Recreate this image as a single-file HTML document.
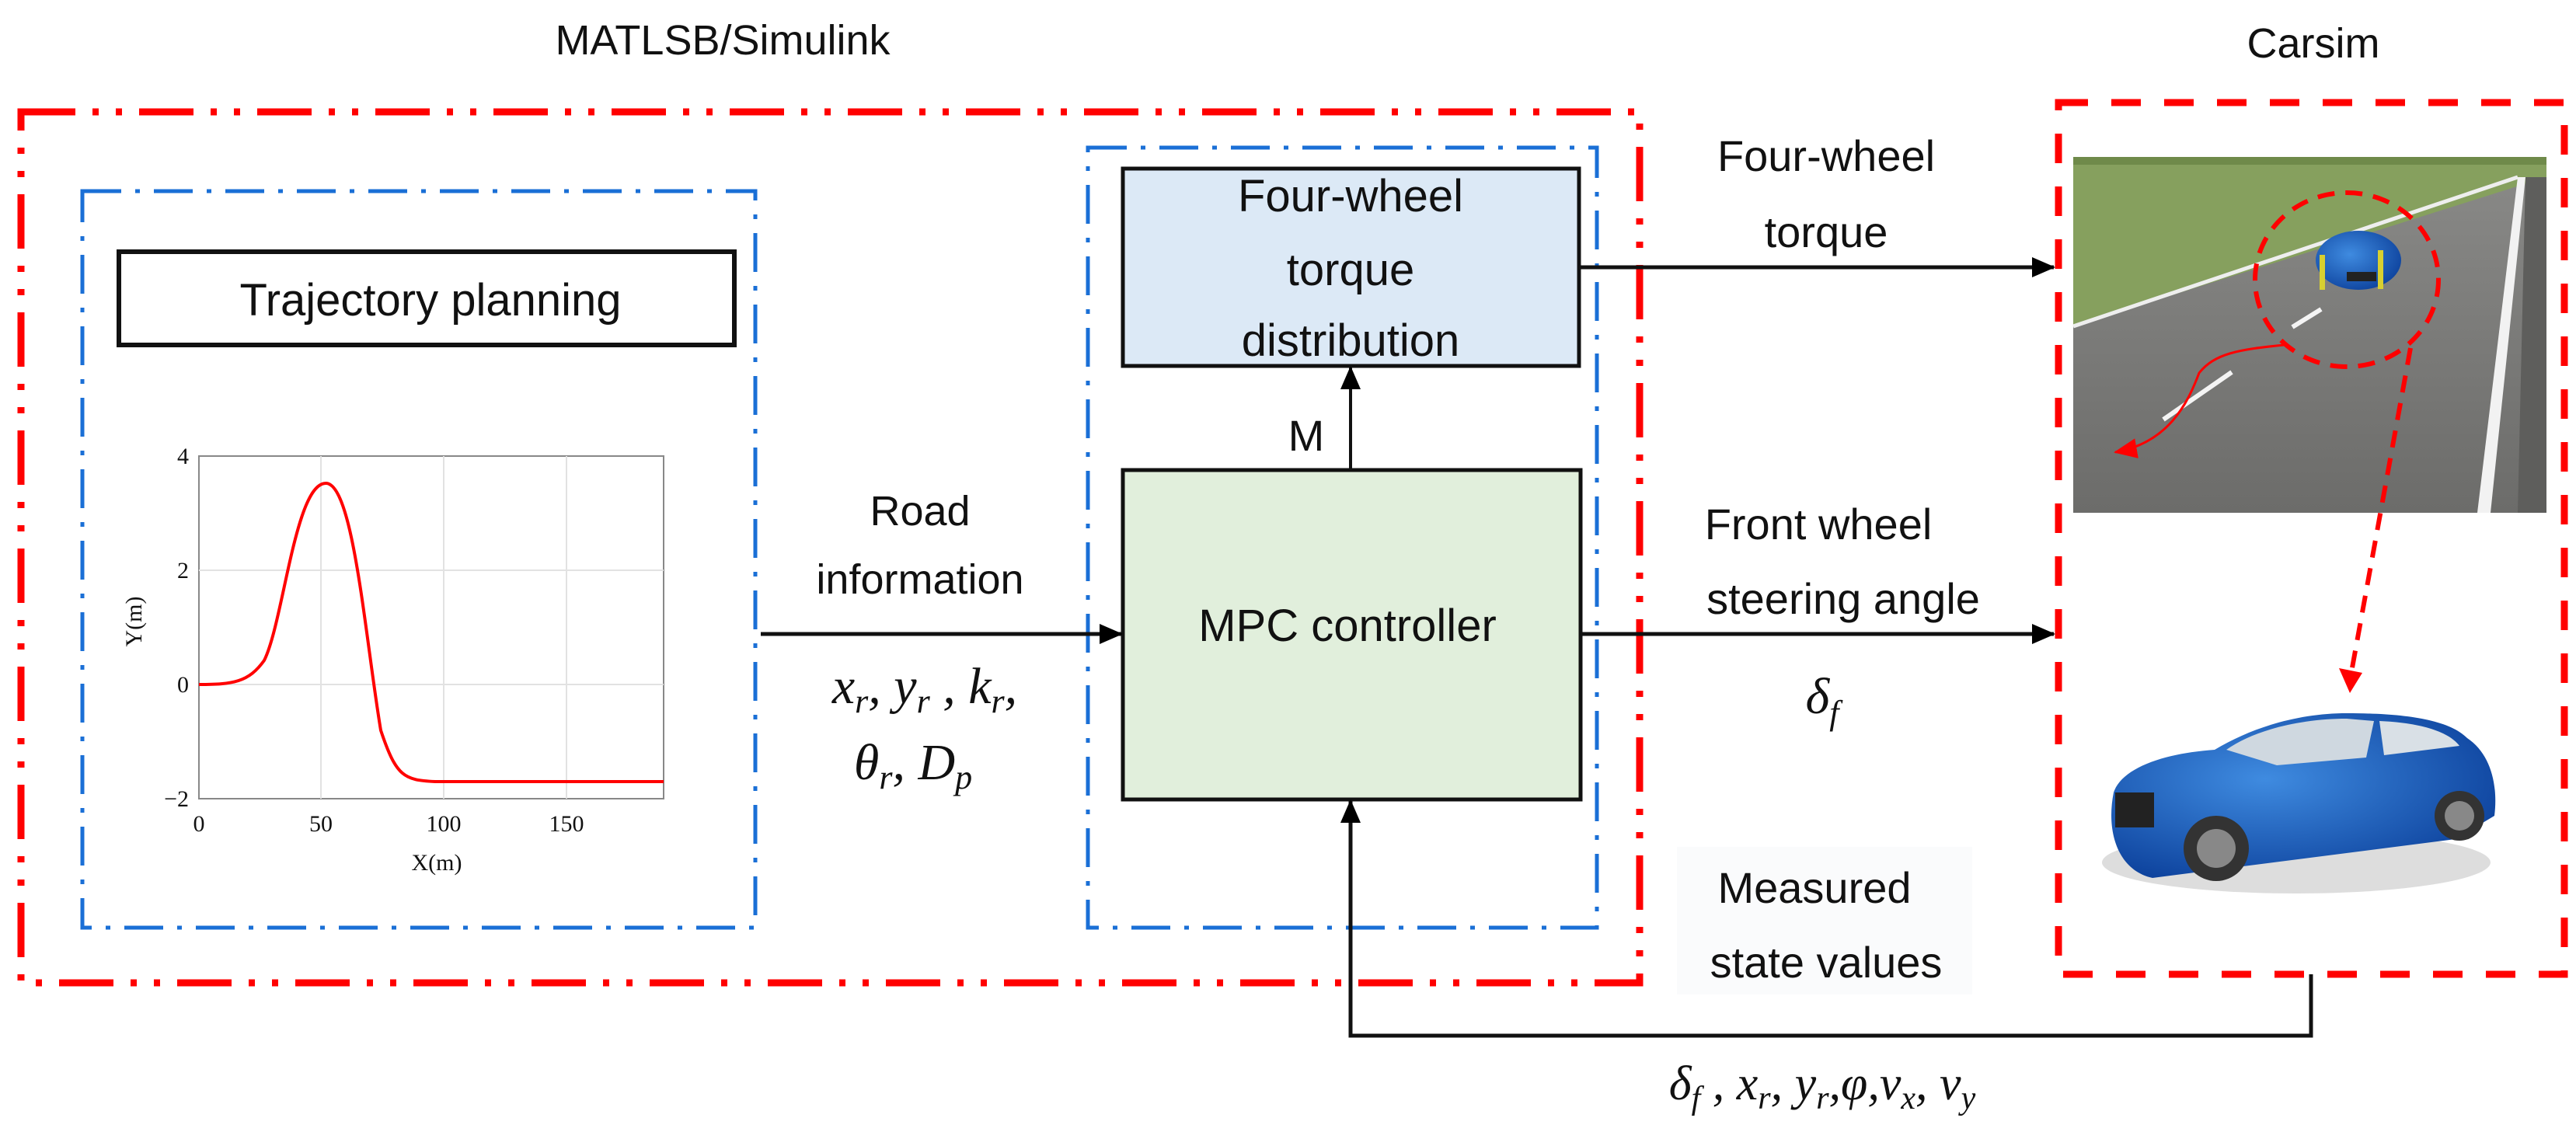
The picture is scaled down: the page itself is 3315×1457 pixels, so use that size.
<!DOCTYPE html>
<html><head><meta charset="utf-8"><style>
html,body{margin:0;padding:0;background:#fff}
svg{display:block}
text{font-family:"Liberation Sans",sans-serif;fill:#111}
.m{font-family:"Liberation Serif",serif;font-style:italic}
</style></head><body>
<svg width="3315" height="1457" viewBox="0 0 3315 1457" xmlns="http://www.w3.org/2000/svg">
<defs>
<marker id="ahb" markerWidth="30" markerHeight="26" refX="28" refY="13" orient="auto" markerUnits="userSpaceOnUse"><path d="M0,0 L30,13 L0,26 z" fill="#000"/></marker>
<marker id="ahr" markerWidth="30" markerHeight="26" refX="28" refY="13" orient="auto" markerUnits="userSpaceOnUse"><path d="M0,0 L30,13 L0,26 z" fill="#f00"/></marker>
<radialGradient id="carb" cx="0.4" cy="0.4" r="0.7"><stop offset="0" stop-color="#3f8be0"/><stop offset="1" stop-color="#0b3f9a"/></radialGradient>
<linearGradient id="asph" x1="0" y1="0" x2="0" y2="1"><stop offset="0" stop-color="#8a8a88"/><stop offset="1" stop-color="#6c6c6a"/></linearGradient>
</defs>

<text x="930" y="70" font-size="54" text-anchor="middle">MATLSB/Simulink</text>
<text x="2977" y="74" font-size="54" text-anchor="middle">Carsim</text>

<rect x="27" y="144" width="2083" height="1121" fill="none" stroke="#f00" stroke-width="9" stroke-dasharray="70,22,8,22,8,22"/>
<rect x="106" y="246" width="866" height="948" fill="none" stroke="#1a6fd6" stroke-width="5" stroke-dasharray="50,18,6,18"/>
<rect x="1400" y="190" width="655" height="1004" fill="none" stroke="#1a6fd6" stroke-width="5" stroke-dasharray="50,18,6,18"/>

<rect x="153" y="324" width="792" height="120" fill="#fff" stroke="#111" stroke-width="6"/>
<text x="554" y="406" font-size="58" text-anchor="middle">Trajectory planning</text>

<g>
<rect x="256" y="587" width="598" height="441" fill="#fff" stroke="#888" stroke-width="2"/>
<g stroke="#e2e2e2" stroke-width="2">
<line x1="413" y1="587" x2="413" y2="1028"/><line x1="571" y1="587" x2="571" y2="1028"/><line x1="729" y1="587" x2="729" y2="1028"/>
<line x1="256" y1="734" x2="854" y2="734"/><line x1="256" y1="881" x2="854" y2="881"/>
</g>
<path d="M256,881 C300,881 320,878 340,850 C365,800 380,620 420,622 C455,625 470,820 490,940 C510,1000 520,1004 560,1006 L854,1006" fill="none" stroke="#f00" stroke-width="4"/>
<g font-size="30" fill="#333">
<text x="243" y="597" text-anchor="end" style="font-family:'Liberation Serif',serif">4</text>
<text x="243" y="744" text-anchor="end" style="font-family:'Liberation Serif',serif">2</text>
<text x="243" y="891" text-anchor="end" style="font-family:'Liberation Serif',serif">0</text>
<text x="243" y="1038" text-anchor="end" style="font-family:'Liberation Serif',serif">−2</text>
<text x="256" y="1070" text-anchor="middle" style="font-family:'Liberation Serif',serif">0</text>
<text x="413" y="1070" text-anchor="middle" style="font-family:'Liberation Serif',serif">50</text>
<text x="571" y="1070" text-anchor="middle" style="font-family:'Liberation Serif',serif">100</text>
<text x="729" y="1070" text-anchor="middle" style="font-family:'Liberation Serif',serif">150</text>
<text x="562" y="1120" text-anchor="middle" style="font-family:'Liberation Serif',serif">X(m)</text>
<text transform="translate(182,800) rotate(-90)" text-anchor="middle" style="font-family:'Liberation Serif',serif">Y(m)</text>
</g>
</g>

<rect x="1445" y="217" width="587" height="254" fill="#dce9f6" stroke="#111" stroke-width="5"/>
<text x="1738" y="272" font-size="58" text-anchor="middle">Four-wheel</text>
<text x="1738" y="367" font-size="58" text-anchor="middle">torque</text>
<text x="1738" y="458" font-size="58" text-anchor="middle">distribution</text>

<rect x="1445" y="605" width="589" height="424" fill="#e1efdc" stroke="#111" stroke-width="5"/>
<text x="1734" y="825" font-size="58" text-anchor="middle">MPC controller</text>

<line x1="1738" y1="605" x2="1738" y2="473" stroke="#111" stroke-width="4" marker-end="url(#ahb)"/>
<text x="1681" y="580" font-size="56" text-anchor="middle">M</text>

<line x1="979" y1="816" x2="1443" y2="816" stroke="#111" stroke-width="5" marker-end="url(#ahb)"/>
<text x="1184" y="676" font-size="54" text-anchor="middle">Road</text>
<text x="1184" y="764" font-size="54" text-anchor="middle">information</text>
<text x="1190" y="905" font-size="66" text-anchor="middle" class="m">x<tspan font-size="44" dy="12">r</tspan><tspan dy="-12">, y</tspan><tspan font-size="44" dy="12">r</tspan><tspan dy="-12"> , k</tspan><tspan font-size="44" dy="12">r</tspan><tspan dy="-12">,</tspan></text>
<text x="1175" y="1003" font-size="66" text-anchor="middle" class="m">θ<tspan font-size="44" dy="12">r</tspan><tspan dy="-12">, D</tspan><tspan font-size="44" dy="12">p</tspan></text>

<line x1="2034" y1="344" x2="2643" y2="344" stroke="#111" stroke-width="5" marker-end="url(#ahb)"/>
<line x1="2034" y1="816" x2="2643" y2="816" stroke="#111" stroke-width="5" marker-end="url(#ahb)"/>
<text x="2350" y="220" font-size="56" text-anchor="middle">Four-wheel</text>
<text x="2350" y="318" font-size="56" text-anchor="middle">torque</text>
<text x="2340" y="694" font-size="56" text-anchor="middle">Front wheel</text>
<text x="2372" y="790" font-size="56" text-anchor="middle">steering angle</text>
<text x="2345" y="918" font-size="66" text-anchor="middle" class="m">δ<tspan font-size="44" dy="14">f</tspan></text>

<rect x="2158" y="1090" width="380" height="190" fill="#fafbfc"/>
<text x="2335" y="1162" font-size="56" text-anchor="middle">Measured</text>
<text x="2350" y="1258" font-size="56" text-anchor="middle">state values</text>

<polyline points="2974,1254 2974,1333 1738,1333 1738,1031" fill="none" stroke="#111" stroke-width="5" marker-end="url(#ahb)"/>
<text x="2345" y="1415" font-size="62" text-anchor="middle" class="m">δ<tspan font-size="42" dy="12">f</tspan><tspan dy="-12"> , x</tspan><tspan font-size="42" dy="12">r</tspan><tspan dy="-12">, y</tspan><tspan font-size="42" dy="12">r</tspan><tspan dy="-12">,φ,v</tspan><tspan font-size="42" dy="12">x</tspan><tspan dy="-12">, v</tspan><tspan font-size="42" dy="12">y</tspan></text>

<rect x="2649" y="132" width="651" height="1122" fill="none" stroke="#f00" stroke-width="9" stroke-dasharray="38,30"/>

<!-- photo -->
<rect x="2668" y="202" width="609" height="458" fill="url(#asph)"/>
<polygon points="2668,202 3277,202 3277,228 2668,420" fill="#86a05e"/>
<rect x="2668" y="202" width="609" height="10" fill="#6f8a4a"/>
<line x1="2668" y1="420" x2="3240" y2="228" stroke="#eee" stroke-width="5"/>
<polygon points="3240,228 3250,228 3205,660 3188,660" fill="#f2f2f2"/>
<polygon points="3250,228 3277,228 3277,660 3240,660" fill="#5e5e5c"/>
<line x1="2784" y1="540" x2="2872" y2="479" stroke="#f4f4f4" stroke-width="6"/>
<line x1="2950" y1="421" x2="2987" y2="398" stroke="#f4f4f4" stroke-width="6"/>
<ellipse cx="3035" cy="335" rx="55" ry="38" fill="url(#carb)"/>
<rect x="3020" y="350" width="38" height="12" fill="#222"/>
<rect x="2985" y="328" width="7" height="45" fill="#d8d030"/><rect x="3060" y="322" width="7" height="50" fill="#d8d030"/>
<ellipse cx="3020" cy="360" rx="118" ry="112" fill="none" stroke="#f00" stroke-width="6" stroke-dasharray="22,14"/>
<path d="M2939,444 C2880,450 2850,455 2830,480 C2815,520 2790,570 2722,582" fill="none" stroke="#f00" stroke-width="3" marker-end="url(#ahr)"/>
<line x1="3102" y1="448" x2="3026" y2="865" stroke="#f00" stroke-width="6" stroke-dasharray="22,14"/>
<path d="M3010,860 L3040,866 L3024,892 z" fill="#f00"/>

<!-- car -->
<g>
<ellipse cx="2955" cy="1110" rx="250" ry="40" fill="#ddd"/>
<path d="M2720,1020 C2730,990 2780,970 2850,965 C2900,935 2960,918 3020,918 C3090,918 3150,925 3175,950 C3205,970 3215,1010 3210,1050 L3160,1080 L2770,1130 C2725,1120 2710,1070 2720,1020 z" fill="url(#carb)"/>
<path d="M2865,965 C2900,940 2960,925 3020,925 L3055,928 L3045,975 L2930,985 z" fill="#cfd8e0"/>
<path d="M3062,928 C3110,930 3150,940 3165,960 L3068,972 z" fill="#d9e0e6"/>
<rect x="2722" y="1020" width="50" height="45" fill="#222"/>
<circle cx="2852" cy="1092" r="42" fill="#333"/><circle cx="2852" cy="1092" r="25" fill="#888"/>
<circle cx="3165" cy="1050" r="32" fill="#333"/><circle cx="3165" cy="1050" r="19" fill="#888"/>
</g>
</svg>
</body></html>
